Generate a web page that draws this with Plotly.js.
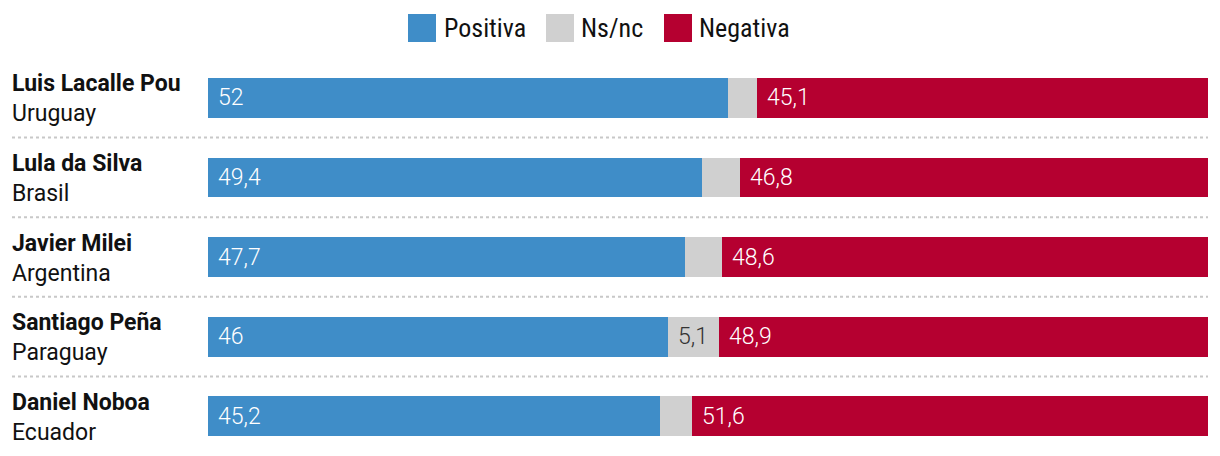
<!DOCTYPE html>
<html>
<head>
<meta charset="utf-8">
<script src="https://cdn.plot.ly/plotly-3.0.1.min.js"></script>
<style>html,body{margin:0;padding:0;background:#fff;}#chart{width:1220px;height:456px;}</style>
</head>
<body>
<div id="chart"></div>
<script>
const leaders = ["Luis Lacalle Pou", "Lula da Silva", "Javier Milei", "Santiago Peña", "Daniel Noboa"];
const countries = ["Uruguay", "Brasil", "Argentina", "Paraguay", "Ecuador"];
const positiva = [52, 49.4, 47.7, 46, 45.2];
const nsnc = [2.9, 3.8, 3.7, 5.1, 3.2];
const negativa = [45.1, 46.8, 48.6, 48.9, 51.6];
const seriesNames = ["Positiva", "Ns/nc", "Negativa"];

const colors = ["#3f8dc8", "#d0d0d0", "#b50030"];
const txtColors = ["#ffffff", "#333333", "#ffffff"];
const fmt = v => String(v).replace('.', ',');
const CFONT = "Roboto Condensed, Roboto, sans-serif";
const FONT = "Roboto, sans-serif";

const series = [positiva, nsnc, negativa];
const data = series.map((vals, i) => ({
  type: 'bar', orientation: 'h', name: seriesNames[i],
  y: leaders, x: vals,
  marker: {color: colors[i], line: {width: 0}},
  hoverinfo: 'name+x', showlegend: false
}));

const annotations = [];
// value labels
leaders.forEach((n, r) => {
  let start = 0;
  series.forEach((vals, i) => {
    const v = vals[r];
    if (i !== 1 || v >= 5) {
      annotations.push({xref: 'x', yref: 'y', x: start, y: n, xanchor: 'left', yanchor: 'middle',
        xshift: 8, showarrow: false, text: fmt(v),
        font: {family: FONT, size: 23, color: txtColors[i], weight: 300}});
    }
    start += v;
  });
});
// row labels
leaders.forEach((n, i) => {
  annotations.push({
    xref: 'paper', yref: 'y', x: -0.198, y: n, xanchor: 'left', yanchor: 'middle',
    align: 'left', showarrow: false, yshift: -1,
    text: '<b>' + n + '</b><br>' + countries[i],
    font: {family: FONT, size: 23, color: '#111'}
  });
});

const shapes = [];
for (let i = 0; i < leaders.length - 1; i++) {
  shapes.push({type: 'line', xref: 'paper', yref: 'y', x0: -0.196, x1: 1, y0: i + 0.5, y1: i + 0.5,
    line: {color: '#c8c8c8', width: 2, dash: 'dot'}});
}
// legend
const plotH = 456 - 58;
const py = px => 1 + (58 - px) / plotH;
const legX = [408, 546, 664];
const legTextX = [442, 579, 697];
seriesNames.forEach((s, i) => {
  shapes.push({type: 'rect', xref: 'paper', yref: 'paper',
    x0: (legX[i] - 208) / 1000, x1: (legX[i] + 28 - 208) / 1000,
    y0: py(42), y1: py(14),
    fillcolor: colors[i], line: {width: 0}});
  annotations.push({xref: 'paper', yref: 'paper', x: (legTextX[i] - 208) / 1000,
    y: py(28), xanchor: 'left', yanchor: 'middle', showarrow: false,
    text: s, font: {family: CFONT, size: 26, color: '#111'}});
});

const layout = {
  width: 1220, height: 456,
  margin: {l: 208, r: 12, t: 58, b: 0},
  barmode: 'stack', bargap: 0.5,
  paper_bgcolor: '#fff', plot_bgcolor: '#fff',
  xaxis: {range: [0, 100], visible: false, fixedrange: true},
  yaxis: {autorange: 'reversed', showticklabels: false, showgrid: false, zeroline: false, ticks: ''},
  showlegend: false,
  annotations: annotations, shapes: shapes
};
Plotly.newPlot('chart', data, layout, {displayModeBar: false, staticPlot: true});
</script>
</body>
</html>
